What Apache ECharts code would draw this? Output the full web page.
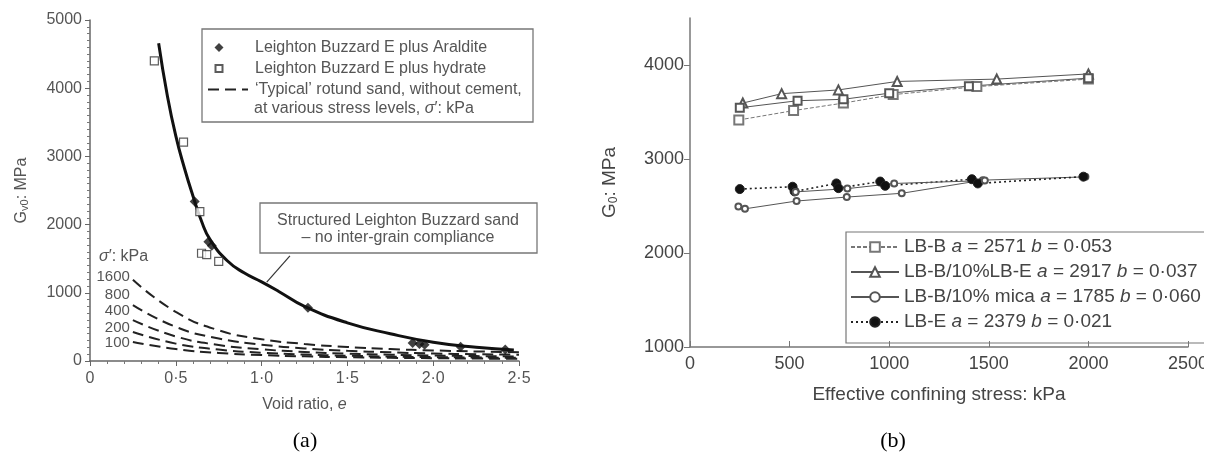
<!DOCTYPE html>
<html><head><meta charset="utf-8">
<script src="https://cdn.jsdelivr.net/npm/echarts@6/dist/echarts.min.js"></script>
<style>html,body{margin:0;padding:0;background:#fff}#c{width:1218px;height:456px}</style>
</head><body><div id="c"></div>
<script>
// ---------- Panel (a) data ----------
const curveVoid = [0.40,0.45,0.50,0.55,0.60,0.65,0.70,0.80,0.90,1.00,1.10,1.25,1.50,1.75,2.00,2.25,2.47];
const curveG    = [4660,3900,3300,2830,2420,2050,1780,1470,1290,1160,1020,800,560,400,275,200,160];
const araldite  = [[0.61,2340],[0.69,1750],[0.71,1690],[1.27,780],[1.88,265],[1.92,250],[1.95,240],[2.16,210],[2.42,170]];
const hydrate   = [[0.375,4400],[0.545,3210],[0.64,2190],[0.65,1580],[0.68,1560],[0.75,1460]];
const typicalVoid = [0.25,0.5,0.75,1.0,1.25,1.5,1.75,2.0,2.25,2.5];
const stressLevels = ['1600','800','400','200','100'];
const typical1600 = [1190,720,450,320,250,205,175,155,140,130];
const typical800  = [820,500,330,240,185,150,127,110,100,92];
const typical400  = [600,360,235,172,133,108,92,80,72,66];
const typical200  = [425,255,168,122,95,77,65,57,51,46];
const typical100  = [280,175,118,87,68,55,47,41,36,32];
const annotationArrow = [[1.165,1540],[1.03,1158]];

// ---------- Panel (b) data ----------
const lbB      = [[245,3415],[520,3515],[770,3595],[1020,3685],[1440,3770],[2000,3850]];
const lbBrun2  = [[250,3545],[540,3620],[770,3635],[1000,3700],[1400,3775],[2000,3860]];
const lbBE     = [[265,3595],[460,3695],[745,3735],[1040,3825],[1540,3850],[2000,3905]];
const lbMica   = [[243,2495],[276,2470],[535,2553],[787,2595],[1063,2635],[1470,2775],[1985,2810]];
const lbMica2  = [[530,2650],[790,2685],[1025,2740],[1480,2770]];
const lbE      = [[250,2680],[515,2705],[525,2655],[735,2740],[745,2690],[955,2760],[980,2715],[1415,2785],[1445,2740],[1975,2812]];
const legendB = {
  'LB-B': 'LB-B {i|a} = 2571 {i|b} = 0·053',
  'LB-B/10%LB-E': 'LB-B/10%LB-E {i|a} = 2917 {i|b} = 0·037',
  'LB-B/10% mica': 'LB-B/10% mica {i|a} = 1785 {i|b} = 0·060',
  'LB-E': 'LB-E {i|a} = 2379 {i|b} = 0·021'
};
const yTicksB = [1000,2000,3000,4000];

const FONT = 'Liberation Sans, Arial, sans-serif';
const txtA = '#555';
const txtB = '#444';
const FA = 16;
const zip = (xs, ys) => xs.map((x,i)=>[x, ys[i]]);
const fmtDot = v => v === 0 ? '0' : v.toFixed(1).replace('.', '·');
const plain = v => String(v);
const labelShift = [-3, -10, -9, -4, 1];

const typicalName = "‘Typical’ rotund sand, without cement,";
const typicalSets = [typical1600, typical800, typical400, typical200, typical100];
const typicalSeries = typicalSets.map((vals, k) => ({
  name: typicalName,
  type: 'line', xAxisIndex: 0, yAxisIndex: 0, smooth: true, symbol: 'none',
  lineStyle: {color: '#222', width: 2, type: [11, 6]},
  itemStyle: {color: 'rgba(0,0,0,0)', borderWidth: 0},
  data: zip(typicalVoid, vals),
  markPoint: {
    symbol: 'circle', symbolSize: 0, silent: true,
    itemStyle: {color: 'rgba(0,0,0,0)'},
    label: {show: true, position: 'left', distance: 3, offset: [0, labelShift[k]], formatter: stressLevels[k],
            color: txtA, fontSize: 15, fontFamily: FONT},
    data: [{coord: [typicalVoid[0], vals[0]]}]
  },
  z: 2
}));

const lineB = (name, data, symbol, size, color, ltype, width, fill) => ({
  name, type: 'line', xAxisIndex: 1, yAxisIndex: 1, data, symbol, symbolSize: size,
  lineStyle: {color, width, type: ltype}, itemStyle: {color: fill || color, borderColor: color, borderWidth: 1},
  z: 3
});

const chart = echarts.init(document.getElementById('c'), null, {renderer: 'canvas'});
chart.setOption({
  animation: false,
  backgroundColor: '#fff',
  grid: [
    {left: 90, top: 20, width: 429, height: 341},
    {left: 690, top: 18, width: 498, height: 329}
  ],
  xAxis: [
    {gridIndex: 0, type: 'value', min: 0, max: 2.5, interval: 0.5,
     name: 'Void ratio, {i|e}', nameLocation: 'middle', nameGap: 36,
     nameTextStyle: {color: txtA, fontSize: FA, fontFamily: FONT, rich: {i: {fontStyle: 'italic', fontSize: FA, color: txtA, fontFamily: FONT}}},
     axisLine: {lineStyle: {color: '#666', width: 1.5}},
     axisTick: {show: true, length: 5, lineStyle: {color: '#666'}},
     minorTick: {show: true, splitNumber: 5, length: 3, lineStyle: {color: '#777'}},
     axisLabel: {color: txtA, fontSize: FA, fontFamily: FONT, margin: 10, formatter: fmtDot},
     splitLine: {show: false}},
    {gridIndex: 1, type: 'value', min: 0, max: 2500, interval: 500,
     name: 'Effective confining stress: kPa', nameLocation: 'middle', nameGap: 38,
     nameTextStyle: {color: txtB, fontSize: 19, fontFamily: FONT},
     axisLine: {lineStyle: {color: '#777', width: 1.5}},
     axisTick: {show: true, inside: true, length: 6, lineStyle: {color: '#777'}},
     axisLabel: {color: txtB, fontSize: 18, fontFamily: FONT, margin: 8, formatter: plain},
     splitLine: {show: false}}
  ],
  yAxis: [
    {gridIndex: 0, type: 'value', min: 0, max: 5000, interval: 1000,
     name: 'G{s|v0}: MPa', nameLocation: 'middle', nameGap: 60, nameRotate: 90,
     nameTextStyle: {color: txtA, fontSize: FA, fontFamily: FONT, rich: {s: {fontSize: 11, verticalAlign: 'bottom', color: txtA, fontFamily: FONT, padding: [6,0,0,0]}}},
     axisLine: {show: true, lineStyle: {color: '#666', width: 1.5}},
     axisTick: {show: true, length: 5, lineStyle: {color: '#666'}},
     minorTick: {show: true, splitNumber: 10, length: 3, lineStyle: {color: '#777'}},
     axisLabel: {color: txtA, fontSize: FA, fontFamily: FONT, margin: 8, formatter: plain},
     splitLine: {show: false}},
    {gridIndex: 1, type: 'value', min: 1000, max: 4500, interval: 1000,
     name: 'G{s|0}: MPa', nameLocation: 'middle', nameGap: 70, nameRotate: 90,
     nameTextStyle: {color: txtB, fontSize: 19, fontFamily: FONT, rich: {s: {fontSize: 12, color: txtB, fontFamily: FONT, padding: [8,0,0,0]}}},
     axisLine: {show: true, lineStyle: {color: '#777', width: 1.5}},
     axisTick: {show: true, length: 6, lineStyle: {color: '#777'}, customValues: yTicksB},
     axisLabel: {color: txtB, fontSize: 18, fontFamily: FONT, margin: 6, customValues: yTicksB, formatter: plain},
     splitLine: {show: false}}
  ],
  legend: [
    {left: 202, top: 34, orient: 'vertical', itemWidth: 40, itemHeight: 9, itemGap: 4,
     data: [
       {name: 'Leighton Buzzard E plus Araldite', icon: 'path://M0,0M40,9M6.5,4.5L11,0L15.5,4.5L11,9Z'},
       {name: 'Leighton Buzzard E plus hydrate', icon: 'path://M0,0M40,9M7.5,1L14.5,1L14.5,8L7.5,8Z'},
       typicalName],
     textStyle: {color: txtA, fontSize: FA, lineHeight: 17, fontFamily: FONT, padding: [0,0,0,2]},
     selectedMode: false},
    {left: 846, top: 232, orient: 'vertical', itemWidth: 48, itemHeight: 12, itemGap: 5,
     padding: [5, 60, 11, 4], borderColor: '#777', borderWidth: 1.2,
     data: ['LB-B', 'LB-B/10%LB-E', 'LB-B/10% mica', 'LB-E'],
     formatter: n => legendB[n],
     textStyle: {color: txtB, fontSize: 19, lineHeight: 20, fontFamily: FONT,
                 rich: {i: {fontStyle: 'italic', fontSize: 19, lineHeight: 20, color: txtB, fontFamily: FONT}}},
     selectedMode: false}
  ],
  series: [
    ...typicalSeries,
    {name: 'main', type: 'line', xAxisIndex: 0, yAxisIndex: 0, smooth: true, symbol: 'none',
     lineStyle: {color: '#111', width: 3}, data: zip(curveVoid, curveG), z: 4,
     markLine: {silent: true, symbol: ['none', 'arrow'], symbolSize: [0, 9],
                lineStyle: {color: '#333', width: 1.2, type: 'solid'}, label: {show: false},
                data: [[{coord: annotationArrow[0]}, {coord: annotationArrow[1]}]]}},
    {name: 'Leighton Buzzard E plus Araldite', type: 'scatter', xAxisIndex: 0, yAxisIndex: 0,
     symbol: 'diamond', symbolSize: 10, itemStyle: {color: '#111'}, data: araldite, z: 5},
    {name: 'Leighton Buzzard E plus hydrate', type: 'scatter', xAxisIndex: 0, yAxisIndex: 0,
     symbol: 'rect', symbolSize: 8, itemStyle: {color: '#fff', borderColor: '#333', borderWidth: 1.2}, data: hydrate, z: 5},
    lineB('LB-B', lbB, 'emptyRect', 9, '#777', [4, 2], 1),
    lineB('LB-B/10%LB-E', lbBE, 'emptyTriangle', 9, '#555', 'solid', 1),
    lineB('LB-B/10% mica', lbMica, 'emptyCircle', 6, '#555', 'solid', 1),
    lineB('LB-E', lbE, 'circle', 9, '#222', [2, 3], 1.6, '#111'),
    lineB('LB-B', lbBrun2, 'emptyRect', 8, '#555', 'solid', 1),
    lineB('LB-B/10% mica', lbMica2, 'emptyCircle', 6, '#555', 'solid', 1)
  ],
  graphic: [
    {type: 'rect', shape: {x: 202, y: 29, width: 331, height: 93}, style: {fill: 'none', stroke: '#777', lineWidth: 1.3}, z: 10},
    {type: 'text', x: 254, y: 109, style: {text: 'at various stress levels, {i|σ}′: kPa', fill: txtA, font: FA + 'px ' + FONT, textVerticalAlign: 'middle',
      rich: {i: {fontStyle: 'italic', fontSize: FA, fill: txtA, fontFamily: FONT}}}, z: 10},
    {type: 'rect', shape: {x: 260, y: 203, width: 277, height: 50}, style: {fill: '#fff', stroke: '#777', lineWidth: 1.3}, z: 10},
    {type: 'text', x: 398, y: 221, style: {text: 'Structured Leighton Buzzard sand', fill: txtA, font: FA + 'px ' + FONT, textAlign: 'center', textVerticalAlign: 'middle'}, z: 11},
    {type: 'text', x: 398, y: 238, style: {text: '– no inter-grain compliance', fill: txtA, font: FA + 'px ' + FONT, textAlign: 'center', textVerticalAlign: 'middle'}, z: 11},
    {type: 'text', x: 99, y: 257, style: {text: '{i|σ}′: kPa', fill: txtA, font: FA + 'px ' + FONT, textVerticalAlign: 'middle',
      rich: {i: {fontStyle: 'italic', fontSize: FA, fill: txtA, fontFamily: FONT}}}, z: 11},
    {type: 'text', x: 305, y: 441, style: {text: '(a)', fill: '#000', font: '22px Liberation Serif, Times New Roman, serif', textAlign: 'center', textVerticalAlign: 'middle'}, z: 11},
    {type: 'text', x: 893, y: 441, style: {text: '(b)', fill: '#000', font: '22px Liberation Serif, Times New Roman, serif', textAlign: 'center', textVerticalAlign: 'middle'}, z: 11},
    {type: 'rect', shape: {x: 1204, y: 0, width: 14, height: 420}, style: {fill: '#fff'}, z: 100}
  ]
});
</script></body></html>
